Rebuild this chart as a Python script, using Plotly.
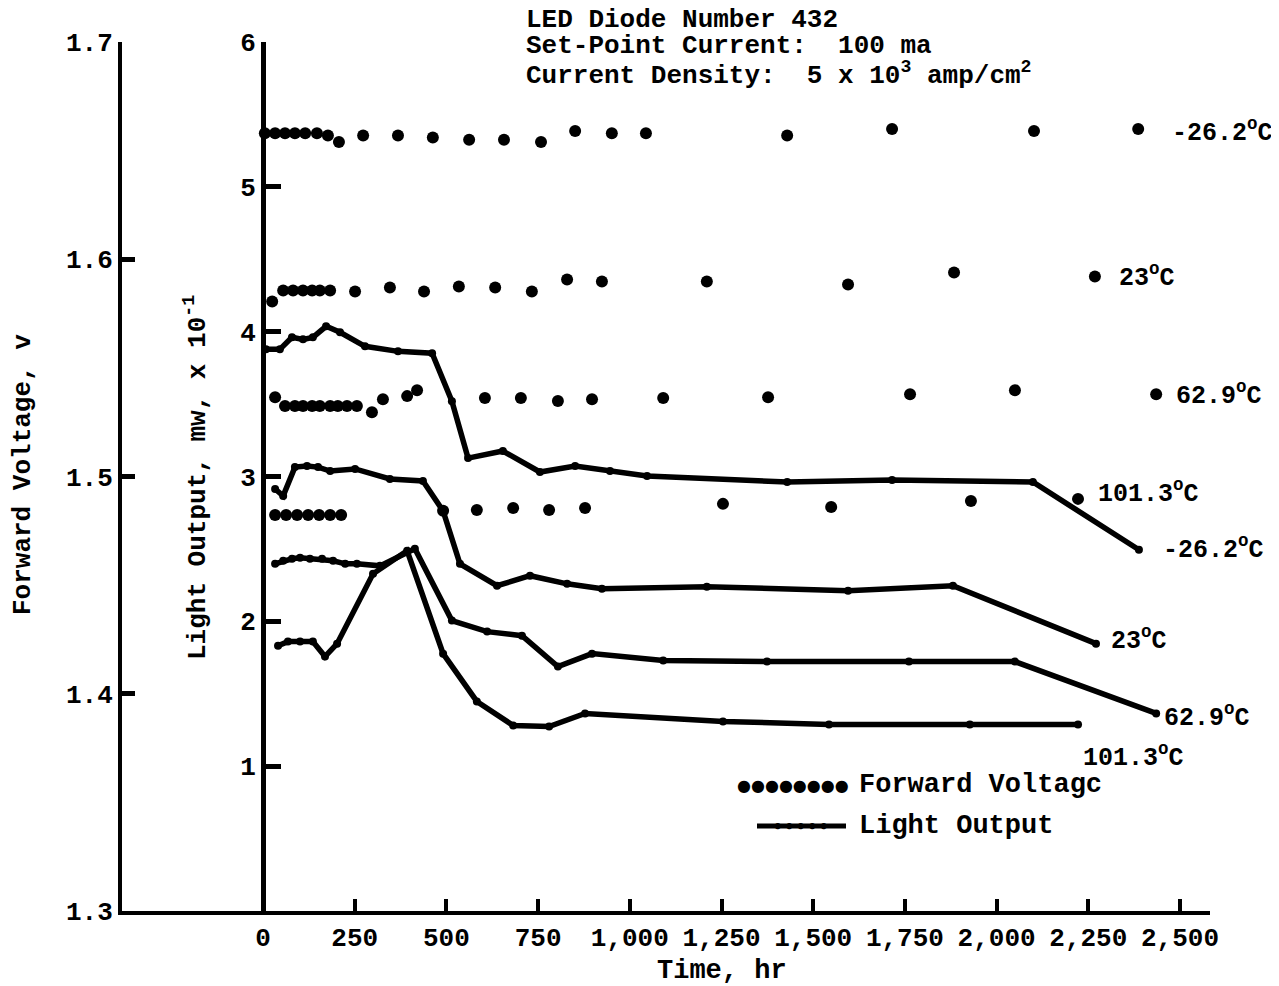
import plotly.graph_objects as go

# ---------------- data ----------------
# Forward voltage (V) vs time (hr)
fv_m26_t = [5, 33, 60, 87, 115, 147, 177, 207, 273, 368, 463, 562, 657, 758, 851, 951, 1044, 1429, 1715, 2102, 2386]
fv_m26_v = [1.658, 1.658, 1.658, 1.658, 1.658, 1.658, 1.657, 1.654, 1.657, 1.657, 1.656, 1.655, 1.655, 1.654,
            1.659, 1.658, 1.658, 1.657, 1.660, 1.659, 1.660]

fv_23_t = [25, 55, 82, 109, 134, 155, 183, 251, 346, 439, 534, 633, 733, 829, 924, 1210, 1595, 1884, 2268]
fv_23_v = [1.5806, 1.5856, 1.5856, 1.5856, 1.5856, 1.5856, 1.5856, 1.5852, 1.5870, 1.5852, 1.5875, 1.5870,
           1.5852, 1.5907, 1.5898, 1.5898, 1.5884, 1.5939, 1.5921]

fv_629_t = [33, 60, 87, 109, 134, 155, 183, 204, 229, 256, 297, 327, 393, 420, 605, 703, 804, 897, 1091,
            1377, 1764, 2050, 2435]
fv_629_v = [1.5365, 1.5324, 1.5324, 1.5324, 1.5324, 1.5324, 1.5324, 1.5324, 1.5324, 1.5324, 1.5296, 1.5356,
            1.5370, 1.5397, 1.5361, 1.5361, 1.5348, 1.5356, 1.5361, 1.5365, 1.5379, 1.5397, 1.5379]

fv_1013_t = [33, 63, 93, 123, 153, 183, 213, 491, 583, 682, 780, 878, 1254, 1549, 1930, 2222]
fv_1013_v = [1.4823, 1.4823, 1.4823, 1.4823, 1.4823, 1.4823, 1.4823, 1.4842, 1.4846, 1.4855, 1.4846, 1.4855,
             1.4874, 1.4860, 1.4887, 1.4897]

# Light output (mw x 10^-1) vs time (hr)
lo_m26_t = [8, 46, 79, 109, 136, 172, 210, 278, 368, 461, 515, 559, 654, 755, 851, 946, 1047, 1429, 1715, 2099, 2388]
lo_m26_l = [3.878, 3.878, 3.961, 3.947, 3.961, 4.037, 3.996, 3.899, 3.864, 3.851, 3.520, 3.127, 3.176, 3.031,
            3.072, 3.038, 3.003, 2.962, 2.976, 2.962, 2.494]

lo_23_t = [33, 55, 87, 120, 150, 183, 251, 346, 436, 491, 537, 638, 728, 829, 924, 1210, 1595, 1881, 2271]
lo_23_l = [2.914, 2.866, 3.065, 3.072, 3.065, 3.038, 3.052, 2.983, 2.969, 2.762, 2.397, 2.246, 2.315, 2.259,
           2.225, 2.239, 2.211, 2.246, 1.846]

lo_629_t = [33, 55, 79, 101, 128, 161, 191, 224, 256, 319, 414, 515, 611, 706, 804, 897, 1091, 1374, 1761, 2050, 2435]
lo_629_l = [2.397, 2.418, 2.432, 2.439, 2.432, 2.432, 2.418, 2.397, 2.397, 2.383, 2.501, 2.005, 1.929, 1.901,
            1.688, 1.777, 1.729, 1.722, 1.722, 1.722, 1.364]

lo_1013_t = [41, 68, 101, 136, 169, 202, 300, 393, 491, 583, 682, 780, 878, 1254, 1543, 1927, 2222]
lo_1013_l = [1.832, 1.860, 1.860, 1.860, 1.757, 1.846, 2.328, 2.487, 1.777, 1.447, 1.281, 1.274, 1.364, 1.309,
             1.288, 1.288, 1.288]

x_ticks = [0, 250, 500, 750, 1000, 1250, 1500, 1750, 2000, 2250, 2500]
x_tick_text = ["0", "250", "500", "750", "1,000", "1,250", "1,500", "1,750", "2,000", "2,250", "2,500"]
fv_ticks = [1.3, 1.4, 1.5, 1.6, 1.7]
lo_ticks = [1, 2, 3, 4, 5, 6]

temps = ["-26.2", "23", "62.9", "101.3"]

# ---------------- figure ----------------
FONT = "Liberation Mono"
FS = 27
TFS = 26
LFS = 25
BLACK = "#000000"
WEIGHT = "bold"

fig = go.Figure()

fv_series = [(fv_m26_t, fv_m26_v), (fv_23_t, fv_23_v), (fv_629_t, fv_629_v), (fv_1013_t, fv_1013_v)]
lo_series = [(lo_m26_t, lo_m26_l), (lo_23_t, lo_23_l), (lo_629_t, lo_629_l), (lo_1013_t, lo_1013_l)]

for name, (t, v) in zip(temps, fv_series):
    fig.add_trace(go.Scatter(x=t, y=v, mode="markers", yaxis="y", name="FV " + name,
                             marker=dict(color=BLACK, size=12, symbol="circle"),
                             showlegend=False, cliponaxis=False))

for name, (t, l) in zip(temps, lo_series):
    fig.add_trace(go.Scatter(x=t, y=l, mode="lines+markers", yaxis="y2", name="LO " + name,
                             line=dict(color=BLACK, width=5.5),
                             marker=dict(color=BLACK, size=8, symbol="circle"),
                             showlegend=False, cliponaxis=False))

# page has an 8px body margin; figure sized so the plot area lands where the reference has it
OFF = 8
W, H = 1279 - OFF, 986 - OFF
PL, PR, PT, PB = 122, 1210, 42, 911  # plot area in page pixels
L, R, T, B = PL - OFF, W - (PR - OFF), PT - OFF, H - (PB - OFF)


def px(xp):
    return (xp - PL) / (PR - PL)


def py(yp):
    return (PB - yp) / (PB - PT)


# x scale: t = 0 at page x 263, 0.3668 px per hr
X0, XS = 263, 0.3668
x_range = [(PL - X0) / XS, (PR - X0) / XS]

tickfont = dict(family=FONT, size=TFS, color=BLACK, weight=WEIGHT)

fig.update_layout(
    width=W, height=H,
    margin=dict(l=L, r=R, t=T, b=B, pad=0),
    paper_bgcolor="white", plot_bgcolor="white",
    font=dict(family=FONT, size=FS, color=BLACK, weight=WEIGHT),
    showlegend=False,
    xaxis=dict(range=x_range, domain=[0, 1], showgrid=False, zeroline=False,
               showline=True, linecolor=BLACK, linewidth=4,
               ticks="inside", ticklen=12, tickwidth=4, tickcolor=BLACK,
               tickvals=x_ticks, ticktext=x_tick_text, tickfont=tickfont),
    yaxis=dict(range=[1.3, 1.7], showgrid=False, zeroline=False,
               showline=True, linecolor=BLACK, linewidth=4,
               ticks="inside", ticklen=13, tickwidth=5, tickcolor=BLACK,
               tickvals=fv_ticks, ticktext=[f"{v:.1f}" for v in fv_ticks], tickfont=tickfont),
    yaxis2=dict(range=[0, 6], overlaying="y", anchor="free", position=px(X0), side="left",
                showgrid=False, zeroline=False,
                showline=True, linecolor=BLACK, linewidth=5,
                ticks="inside", ticklen=15, tickwidth=5, tickcolor=BLACK,
                tickvals=lo_ticks, ticktext=[str(v) for v in lo_ticks], tickfont=tickfont),
)

ann = []
# header block
header = ["LED Diode Number 432",
          "Set-Point Current:  100 ma",
          "Current Density:  5 x 10<sup>3</sup> amp/cm<sup>2</sup>"]
for txt, yc in zip(header, [20, 46, 74]):
    ann.append(dict(text=txt, xref="paper", yref="paper", x=px(524), y=py(yc),
                    xanchor="left", yanchor="middle", showarrow=False,
                    font=dict(family=FONT, size=26, color=BLACK, weight=WEIGHT)))

# axis titles
ann.append(dict(text="Time, hr", xref="paper", yref="paper", x=px(722), y=py(971),
                xanchor="center", yanchor="middle", showarrow=False))
ann.append(dict(text="Forward Voltage, v", xref="paper", yref="paper", x=px(23), y=py(475),
                xanchor="center", yanchor="middle", textangle=-90, showarrow=False,
                font=dict(family=FONT, size=26, color=BLACK, weight=WEIGHT)))
ann.append(dict(text="Light Output, mw, x 10<sup>-1</sup>", xref="paper", yref="paper", x=px(196), y=py(478),
                xanchor="center", yanchor="middle", textangle=-90, showarrow=False,
                font=dict(family=FONT, size=26, color=BLACK, weight=WEIGHT)))

# series labels (placed just right of each series end)
lab_font = dict(family=FONT, size=LFS, color=BLACK, weight=WEIGHT)
fv_label_pos = [(2472, 1.659), (2328, 1.5925), (2484, 1.5379), (2272, 1.4929)]
lo_label_pos = [(2449, 2.507), (2307, 1.881), (2452, 1.343), (2231, 1.068)]
for name, (xt, yv) in zip(temps, fv_label_pos):
    ann.append(dict(text=name + "<sup>o</sup>C", x=xt, y=yv, xref="x", yref="y",
                    xanchor="left", yanchor="middle", showarrow=False, font=lab_font))
for name, (xt, yv) in zip(temps, lo_label_pos):
    ann.append(dict(text=name + "<sup>o</sup>C", x=xt, y=yv, xref="x", yref="y2",
                    xanchor="left", yanchor="middle", showarrow=False, font=lab_font))

# legend
ann.append(dict(text="●●●●●●●●", xref="paper", yref="paper", x=px(793), y=py(785),
                xanchor="center", yanchor="middle", showarrow=False,
                font=dict(family="DejaVu Sans", size=16, color=BLACK)))
ann.append(dict(text="Forward Voltagc", xref="paper", yref="paper", x=px(857), y=py(785),
                xanchor="left", yanchor="middle", showarrow=False))
ann.append(dict(text="•••••", xref="paper", yref="paper", x=px(801), y=py(826),
                xanchor="center", yanchor="middle", showarrow=False,
                font=dict(family="DejaVu Sans", size=18, color=BLACK)))
ann.append(dict(text="Light Output", xref="paper", yref="paper", x=px(857), y=py(826),
                xanchor="left", yanchor="middle", showarrow=False))

fig.update_layout(annotations=ann)
fig.add_shape(type="line", xref="paper", yref="paper", x0=px(757), x1=px(846), y0=py(826), y1=py(826),
              line=dict(color=BLACK, width=5))

fig.write_html("out.html")
